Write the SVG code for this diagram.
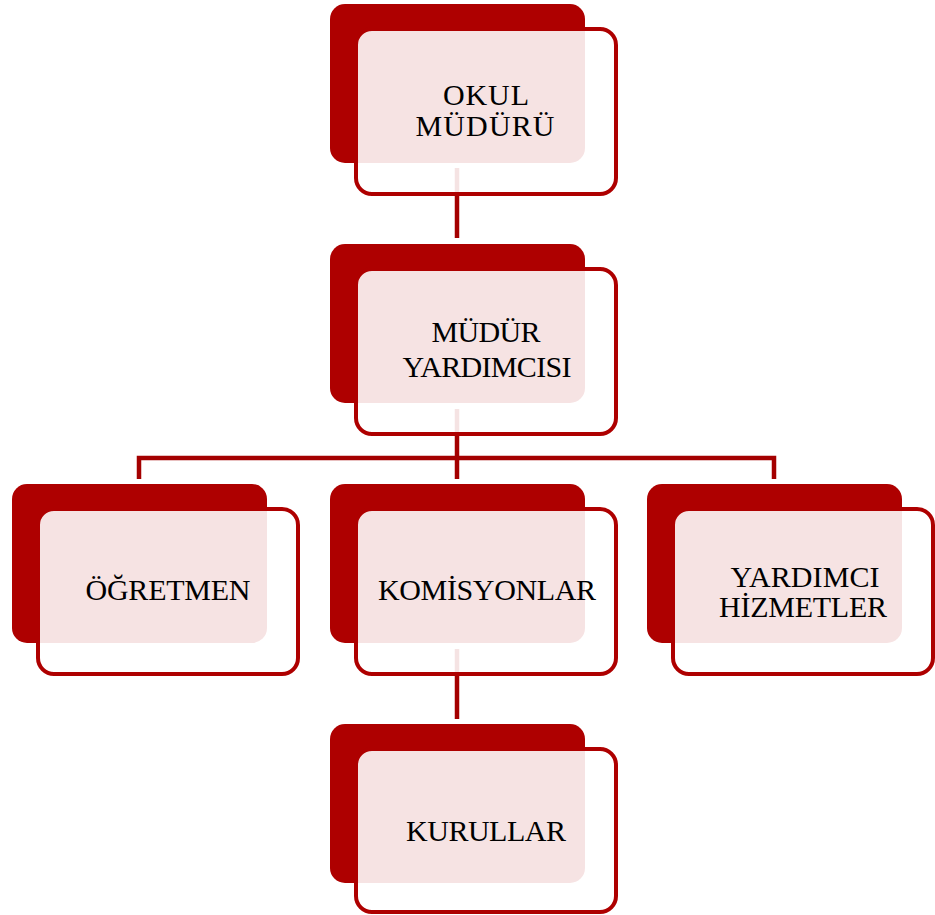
<svg xmlns="http://www.w3.org/2000/svg" width="935" height="915" viewBox="0 0 935 915">
<style>
.back{fill:#AE0000;}
.front{fill:#FFFFFF;fill-opacity:0.89;stroke:#AE0000;stroke-width:4;}
.conn{stroke:#A40000;stroke-width:4.5;fill:none;}
.lbl{font-family:"Liberation Serif","Times New Roman",serif;font-size:30px;fill:#000;text-anchor:middle;}
</style>
<rect width="935" height="915" fill="#FFFFFF"/>
<g id="connectors">
<line class="conn" x1="457" y1="168" x2="457" y2="238"/>
<line class="conn" x1="457" y1="409" x2="457" y2="479"/>
<polyline class="conn" points="139,479 139,458 774,458 774,479"/>
<line class="conn" x1="457" y1="649" x2="457" y2="719"/>
</g>
<g id="node-okul-muduru">
<rect class="back" x="330" y="4" width="255" height="159" rx="15"/>
<rect class="front" x="356" y="29" width="260" height="165" rx="16"/>
<text class="lbl" x="486" y="105" textLength="86" lengthAdjust="spacing">OKUL</text>
<text class="lbl" x="485" y="136" textLength="139" lengthAdjust="spacing">MÜDÜRÜ</text>
</g>
<g id="node-mudur-yardimcisi">
<rect class="back" x="330" y="244" width="255" height="159" rx="15"/>
<rect class="front" x="356" y="269" width="260" height="165" rx="16"/>
<text class="lbl" x="486" y="342" textLength="109" lengthAdjust="spacing">MÜDÜR</text>
<text class="lbl" x="487" y="377" textLength="169" lengthAdjust="spacing">YARDIMCISI</text>
</g>
<g id="node-ogretmen">
<rect class="back" x="12" y="484" width="255" height="159" rx="15"/>
<rect class="front" x="38" y="509" width="260" height="165" rx="16"/>
<text class="lbl" x="168" y="600" textLength="165" lengthAdjust="spacing">ÖĞRETMEN</text>
</g>
<g id="node-komisyonlar">
<rect class="back" x="330" y="484" width="255" height="159" rx="15"/>
<rect class="front" x="356" y="509" width="260" height="165" rx="16"/>
<text class="lbl" x="487" y="600" textLength="218" lengthAdjust="spacing">KOMİSYONLAR</text>
</g>
<g id="node-yardimci-hizmetler">
<rect class="back" x="647" y="484" width="255" height="159" rx="15"/>
<rect class="front" x="673" y="509" width="260" height="165" rx="16"/>
<text class="lbl" x="805" y="587" textLength="149" lengthAdjust="spacing">YARDIMCI</text>
<text class="lbl" x="803" y="617" textLength="168" lengthAdjust="spacing">HİZMETLER</text>
</g>
<g id="node-kurullar">
<rect class="back" x="330" y="724" width="255" height="159" rx="15"/>
<rect class="front" x="356" y="749" width="260" height="163" rx="16"/>
<text class="lbl" x="486" y="841" textLength="160" lengthAdjust="spacing">KURULLAR</text>
</g>
</svg>
